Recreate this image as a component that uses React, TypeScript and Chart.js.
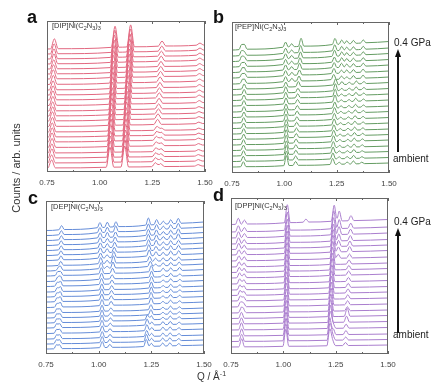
import React, { useEffect, useRef } from "react";
import { Chart, registerables } from "chart.js";
Chart.register(...registerables);

type Peak = [number, number];

const Q_MIN = 0.75;
const Q_MAX = 1.5;
const Q_TICKS = [0.75, 1.0, 1.25, 1.5];
const Q_MINOR_TICKS = [0.875, 1.125, 1.375];

// ---------- Panel a: [DIP]Ni(C2N3)3 (bottom = ambient, top = 0.4 GPa) ----------
const dipOffsets = [4, 9, 14, 19, 24.5, 30, 35, 40, 45.5, 51, 56, 61, 66.5, 72, 77, 82, 87.5, 93, 98, 103, 108, 113, 118, 123];
const dipRise = [2, 2, 2, 2, 2.5, 2.5, 2.5, 2.5, 3, 3, 3, 3, 3, 3, 3, 3.5, 3.5, 3.5, 3.5, 3.5, 4, 4, 4, 4];
const dipPeaks: Peak[][] = [
  [[0.772, 8], [1.049, 20], [1.119, 21], [1.265, 4], [1.289, 3], [1.468, 1.5]],
  [[0.772, 8], [1.050, 21], [1.120, 22], [1.266, 4], [1.290, 3], [1.469, 1.5]],
  [[0.773, 9], [1.051, 21], [1.121, 22], [1.267, 4], [1.290, 3], [1.469, 1.5]],
  [[0.773, 9], [1.052, 21], [1.123, 22], [1.268, 4], [1.291, 3], [1.470, 1.5]],
  [[0.774, 9], [1.053, 22], [1.124, 22], [1.269, 4], [1.291, 3], [1.470, 1.5]],
  [[0.774, 9], [1.054, 22], [1.125, 22], [1.270, 4], [1.292, 3], [1.470, 1.5]],
  [[0.775, 9], [1.055, 22], [1.126, 23], [1.272, 4], [1.292, 3], [1.471, 1.5]],
  [[0.775, 9], [1.056, 22], [1.127, 23], [1.273, 4], [1.293, 2], [1.471, 1.5]],
  [[0.776, 9], [1.057, 22], [1.128, 23], [1.275, 5], [1.471, 1.5]],
  [[0.776, 9], [1.058, 22], [1.130, 23], [1.277, 5], [1.472, 1.5]],
  [[0.777, 9], [1.059, 22], [1.131, 23], [1.279, 5], [1.472, 1.5]],
  [[0.777, 9], [1.060, 22], [1.132, 23], [1.280, 5], [1.472, 1.5]],
  [[0.778, 9], [1.061, 22], [1.133, 23], [1.282, 5], [1.473, 2]],
  [[0.778, 9], [1.062, 22], [1.135, 23], [1.283, 5], [1.473, 2]],
  [[0.779, 9], [1.063, 22], [1.136, 23], [1.284, 5], [1.473, 2]],
  [[0.779, 9], [1.064, 22], [1.137, 23], [1.286, 5], [1.474, 2]],
  [[0.780, 9], [1.065, 22], [1.139, 23], [1.287, 5], [1.474, 2]],
  [[0.780, 9], [1.066, 22], [1.140, 23], [1.289, 5], [1.474, 2]],
  [[0.781, 9], [1.067, 22], [1.141, 23], [1.290, 5], [1.475, 2]],
  [[0.782, 9], [1.068, 22], [1.142, 23], [1.291, 5], [1.475, 2]],
  [[0.783, 10], [1.069, 22], [1.143, 23], [1.292, 5], [1.475, 2]],
  [[0.783, 10], [1.070, 22], [1.144, 23], [1.293, 5], [1.476, 2]],
  [[0.784, 10], [1.072, 22], [1.146, 23], [1.295, 5], [1.476, 2]],
  [[0.785, 10], [1.073, 21], [1.147, 22], [1.296, 5], [1.476, 2]],
];

// ---------- Panel b: [PEP]Ni(C2N3)3 ----------
const pepOffsets = [6, 11.5, 17, 22.5, 28, 33.5, 39, 44.5, 50, 55.5, 61, 67, 72.5, 78, 83.5, 89, 95, 100.5, 106, 111.5, 117, 123];
const pepRise = [4, 4, 4.5, 4.5, 5, 5, 5, 5.5, 5.5, 6, 6, 6, 6.5, 6.5, 7, 7, 7, 7.5, 7.5, 8, 8, 8.5];
const pepPeaks: Peak[][] = [
  [[0.804, 5], [1.010, 10], [1.054, 4], [1.231, 6], [1.262, 2], [1.300, 2], [1.330, 3], [1.370, 1.5]],
  [[0.804, 5], [1.010, 9], [1.054, 4], [1.232, 6], [1.262, 2], [1.300, 2], [1.331, 3], [1.371, 1.5]],
  [[0.805, 5], [1.010, 9], [1.055, 4], [1.233, 6], [1.263, 2], [1.301, 2], [1.332, 3], [1.372, 1.5]],
  [[0.805, 5], [1.010, 8], [1.055, 4], [1.234, 6], [1.264, 2], [1.302, 2], [1.333, 3], [1.372, 2]],
  [[0.805, 5], [1.009, 8], [1.056, 4], [1.235, 6], [1.265, 2], [1.303, 2], [1.334, 3], [1.373, 2]],
  [[0.806, 5], [1.009, 8], [1.057, 4], [1.236, 6], [1.266, 2], [1.303, 2], [1.335, 3], [1.374, 2]],
  [[0.806, 5], [1.009, 8], [1.058, 4], [1.237, 6], [1.267, 2], [1.304, 2], [1.336, 3], [1.375, 2]],
  [[0.806, 5], [1.009, 7], [1.059, 4], [1.238, 6], [1.268, 2], [1.305, 2], [1.337, 3], [1.376, 2]],
  [[0.806, 5], [1.008, 7], [1.060, 4], [1.239, 6], [1.269, 2], [1.306, 2], [1.338, 3], [1.376, 2]],
  [[0.807, 5], [1.008, 7], [1.061, 4], [1.240, 6], [1.270, 2], [1.307, 2], [1.339, 3], [1.377, 2]],
  [[0.807, 5], [1.008, 6], [1.062, 4], [1.241, 6], [1.271, 2], [1.308, 2], [1.340, 3], [1.378, 2]],
  [[0.807, 5], [1.008, 6], [1.063, 4], [1.242, 7], [1.272, 2], [1.309, 2], [1.341, 3], [1.378, 2]],
  [[0.807, 5], [1.007, 6], [1.064, 4], [1.243, 7], [1.273, 2], [1.309, 2], [1.342, 3], [1.379, 2]],
  [[0.808, 5], [1.007, 6], [1.065, 4], [1.244, 7], [1.274, 2], [1.310, 2], [1.343, 3], [1.380, 2]],
  [[0.808, 5], [1.007, 5], [1.067, 5], [1.245, 6], [1.275, 3], [1.310, 2], [1.344, 3], [1.380, 2]],
  [[0.799, 4], [0.811, 4], [1.006, 5], [1.036, 3], [1.070, 5], [1.236, 5], [1.273, 3], [1.298, 2], [1.330, 3], [1.376, 3]],
  [[0.798, 4], [0.811, 4], [1.006, 5], [1.036, 3], [1.072, 5], [1.237, 5], [1.273, 3], [1.298, 3], [1.330, 3], [1.376, 3]],
  [[0.798, 4], [0.810, 4], [1.006, 5], [1.035, 3], [1.073, 6], [1.238, 5], [1.273, 4], [1.298, 3], [1.330, 3], [1.377, 3]],
  [[0.797, 4], [0.810, 4], [1.006, 5], [1.035, 3], [1.075, 6], [1.239, 5], [1.274, 4], [1.298, 3], [1.330, 3], [1.377, 3]],
  [[0.797, 5], [0.810, 4], [1.006, 5], [1.035, 3], [1.077, 6], [1.240, 6], [1.274, 4], [1.298, 3], [1.330, 3], [1.377, 3]],
  [[0.796, 5], [0.809, 4], [1.006, 5], [1.035, 3], [1.078, 7], [1.241, 6], [1.274, 4], [1.298, 3], [1.330, 3], [1.377, 3]],
  [[0.796, 5], [0.809, 5], [1.006, 5], [1.035, 3], [1.080, 8], [1.242, 6], [1.274, 4], [1.298, 3], [1.330, 3], [1.377, 3]],
];

// ---------- Panel c: [DEP]Ni(C2N3)3 ----------
const depOffsets = [5, 10, 15, 20.5, 26, 31, 36, 41, 46.5, 52, 57, 62, 67.5, 72.5, 78, 83, 88, 93.5, 98.5, 103.5, 108.5, 113.5, 118.5, 123.5];
const depRise = [4, 4, 4, 4.5, 4.5, 5, 5, 5, 5.5, 5.5, 6, 6, 6, 6.5, 6.5, 7, 7, 7, 7.5, 7.5, 8, 8, 8.5, 8.5];
const depPeaks: Peak[][] = [
  [[0.800, 4], [0.814, 4], [1.017, 6], [1.053, 3], [1.226, 7], [1.250, 3], [1.304, 3], [1.338, 3], [1.380, 2]],
  [[0.800, 4], [0.814, 4], [1.017, 6], [1.053, 3], [1.227, 7], [1.251, 3], [1.304, 3], [1.338, 3], [1.380, 2]],
  [[0.801, 4], [0.815, 4], [1.017, 6], [1.054, 3], [1.228, 6], [1.251, 3], [1.305, 3], [1.339, 3], [1.381, 2]],
  [[0.801, 4], [0.815, 4], [1.017, 6], [1.054, 3], [1.229, 6], [1.252, 3], [1.305, 3], [1.339, 3], [1.381, 2]],
  [[0.801, 4], [0.815, 4], [1.016, 6], [1.055, 3], [1.230, 6], [1.252, 3], [1.305, 3], [1.340, 3], [1.382, 2]],
  [[0.802, 4], [0.816, 4], [1.016, 6], [1.056, 3], [1.232, 5], [1.250, 4], [1.305, 2], [1.340, 3], [1.382, 2]],
  [[0.802, 4], [0.816, 4], [1.016, 6], [1.057, 3], [1.248, 5], [1.305, 2], [1.340, 3], [1.383, 2]],
  [[0.802, 4], [0.816, 4], [1.016, 6], [1.058, 3], [1.248, 5], [1.305, 2], [1.341, 3], [1.383, 2]],
  [[0.803, 4], [0.817, 5], [1.016, 6], [1.059, 4], [1.249, 6], [1.305, 2], [1.341, 3], [1.384, 2]],
  [[0.803, 4], [0.817, 5], [1.015, 6], [1.060, 4], [1.249, 6], [1.305, 2], [1.341, 3], [1.384, 2]],
  [[0.803, 4], [0.817, 5], [1.015, 6], [1.061, 4], [1.250, 6], [1.305, 2], [1.342, 3], [1.385, 2]],
  [[0.804, 4], [0.818, 5], [1.015, 6], [1.062, 4], [1.250, 6], [1.306, 2], [1.342, 3], [1.385, 2]],
  [[0.804, 4], [0.818, 5], [1.014, 6], [1.063, 4], [1.251, 6], [1.306, 2], [1.342, 3], [1.385, 2]],
  [[0.805, 4], [0.818, 5], [1.014, 6], [1.064, 4], [1.251, 6], [1.306, 2], [1.342, 3], [1.385, 2]],
  [[0.806, 4], [0.819, 4], [1.013, 6], [1.066, 5], [1.250, 6], [1.306, 3], [1.342, 3], [1.384, 3]],
  [[0.808, 3], [0.820, 4], [1.012, 6], [1.040, 2], [1.068, 6], [1.245, 5], [1.270, 2], [1.306, 3], [1.342, 3], [1.382, 3]],
  [[0.820, 4], [1.010, 6], [1.040, 3], [1.070, 7], [1.242, 5], [1.270, 3], [1.306, 3], [1.342, 3], [1.380, 3]],
  [[0.821, 4], [1.009, 5], [1.040, 3], [1.072, 6], [1.240, 6], [1.272, 4], [1.306, 3], [1.342, 4], [1.380, 4]],
  [[0.821, 4], [1.008, 5], [1.040, 4], [1.074, 5], [1.238, 6], [1.272, 4], [1.307, 3], [1.342, 4], [1.379, 4]],
  [[0.822, 4], [1.008, 5], [1.041, 4], [1.076, 5], [1.237, 6], [1.273, 5], [1.307, 3], [1.342, 4], [1.379, 4]],
  [[0.822, 4], [1.007, 5], [1.041, 4], [1.078, 5], [1.236, 6], [1.274, 5], [1.307, 3], [1.342, 4], [1.378, 5]],
  [[0.823, 4], [1.007, 5], [1.041, 5], [1.080, 5], [1.236, 6], [1.274, 5], [1.307, 3], [1.342, 4], [1.378, 5]],
  [[0.823, 4], [1.006, 5], [1.041, 5], [1.081, 6], [1.236, 6], [1.275, 5], [1.307, 3], [1.342, 4], [1.378, 5]],
  [[0.824, 4], [1.006, 5], [1.041, 5], [1.082, 5], [1.236, 7], [1.275, 5], [1.307, 3], [1.342, 4], [1.378, 5]],
];

// ---------- Panel d: [DPP]Ni(C2N3)3 ----------
const dppOffsets = [7, 12.5, 18, 24, 30, 35.5, 41, 47, 53, 58.5, 64, 70, 76, 81.5, 87, 93, 99, 104.5, 110, 116, 122, 129.5];
const dppRise = [2, 2, 2, 2.5, 2.5, 3, 3, 3, 3, 3.5, 3.5, 3.5, 4, 4, 4, 4, 4.5, 4.5, 4.5, 5, 5, 5];
const dppPeaks: Peak[][] = [
  [[0.801, 8], [1.012, 17], [1.222, 17], [1.236, 6], [1.297, 3]],
  [[0.801, 7], [1.012, 17], [1.223, 17], [1.237, 6], [1.298, 3]],
  [[0.801, 7], [1.013, 17], [1.223, 17], [1.238, 6], [1.299, 4]],
  [[0.800, 7], [1.013, 17], [1.224, 17], [1.238, 6], [1.300, 4]],
  [[0.800, 6], [1.013, 17], [1.225, 17], [1.302, 6]],
  [[0.800, 6], [1.014, 17], [1.226, 17], [1.305, 8]],
  [[0.798, 5], [0.810, 4], [1.014, 17], [1.227, 17], [1.306, 4]],
  [[0.796, 5], [0.810, 4], [1.015, 17], [1.228, 17], [1.307, 4]],
  [[0.795, 5], [0.810, 4], [1.015, 17], [1.229, 17], [1.308, 4]],
  [[0.794, 5], [0.811, 4], [1.016, 17], [1.230, 17], [1.309, 4]],
  [[0.793, 5], [0.811, 4], [1.016, 17], [1.231, 17], [1.310, 4]],
  [[0.792, 5], [0.811, 4], [1.016, 17], [1.232, 17], [1.311, 4]],
  [[0.791, 5], [0.812, 4], [1.017, 17], [1.233, 17], [1.312, 4]],
  [[0.790, 5], [0.812, 4], [1.017, 17], [1.234, 17], [1.313, 4]],
  [[0.789, 5], [0.812, 4], [1.017, 17], [1.235, 17], [1.314, 4]],
  [[0.788, 5], [0.813, 4], [1.018, 17], [1.236, 17], [1.262, 4], [1.316, 4]],
  [[0.788, 5], [0.813, 4], [1.018, 17], [1.237, 17], [1.263, 5], [1.317, 5]],
  [[0.787, 6], [0.813, 4], [1.018, 17], [1.238, 17], [1.264, 6], [1.318, 5]],
  [[0.786, 6], [0.813, 4], [1.019, 17], [1.239, 17], [1.265, 7], [1.320, 5]],
  [[0.786, 6], [0.814, 4], [1.019, 17], [1.240, 17], [1.266, 8], [1.321, 5]],
  [[0.785, 6], [0.814, 4], [1.019, 18], [1.241, 18], [1.267, 9], [1.322, 5]],
  [[0.785, 6], [0.814, 4], [1.019, 18], [1.108, 3], [1.243, 16], [1.267, 10], [1.323, 5]],
];

// ---------- layout / style ----------
const PAD_X = 14;
const PAD_T = 4;
const AXIS_H = 18;
const FONT = "'Liberation Sans', Arial, Helvetica, sans-serif";

interface PanelDef {
  id: string;
  offsets: number[];
  rise: number[];
  peaks: Peak[][];
  peakWidth: number;
  color: string;
  box: { left: number; top: number; width: number; height: number };
}

const PANELS: PanelDef[] = [
  { id: "a", offsets: dipOffsets, rise: dipRise, peaks: dipPeaks, peakWidth: 0.018, color: "rgb(226,104,128)", box: { left: 47, top: 21, width: 158, height: 151 } },
  { id: "b", offsets: pepOffsets, rise: pepRise, peaks: pepPeaks, peakWidth: 0.013, color: "rgb(100,156,98)", box: { left: 232, top: 22, width: 157, height: 151 } },
  { id: "c", offsets: depOffsets, rise: depRise, peaks: depPeaks, peakWidth: 0.013, color: "rgb(100,140,216)", box: { left: 46, top: 201, width: 158, height: 153 } },
  { id: "d", offsets: dppOffsets, rise: dppRise, peaks: dppPeaks, peakWidth: 0.014, color: "rgb(170,126,206)", box: { left: 231, top: 198, width: 157, height: 156 } },
];

function buildTrace(offset: number, rise: number, peaks: Peak[], w: number) {
  const xs = new Set<number>([Q_MIN, Q_MAX]);
  peaks.forEach(([q]) => {
    xs.add(+(q - w).toFixed(5));
    xs.add(q);
    xs.add(+(q + w).toFixed(5));
  });
  const sorted = Array.from(xs).filter((x) => x >= Q_MIN && x <= Q_MAX).sort((a, b) => a - b);
  return sorted.map((x) => {
    let y = offset + (rise * (x - Q_MIN)) / (Q_MAX - Q_MIN);
    peaks.forEach(([q, h]) => {
      const d = Math.abs(x - q);
      if (d < w) y += h * (1 - d / w);
    });
    return { x, y };
  });
}

const framePlugin = {
  id: "frameTicks",
  afterDraw(chart: any) {
    const { ctx, chartArea, scales } = chart;
    const { left, right, top, bottom } = chartArea;
    const x = scales.x;
    ctx.save();
    ctx.strokeStyle = "#666";
    ctx.lineWidth = 1;
    ctx.strokeRect(left + 0.5, top + 0.5, right - left - 1, bottom - top - 1);
    const tick = (v: number, len: number) => {
      const px = Math.round(x.getPixelForValue(v)) + 0.5;
      ctx.beginPath();
      ctx.moveTo(px, bottom);
      ctx.lineTo(px, bottom - len);
      ctx.moveTo(px, top);
      ctx.lineTo(px, top + len);
      ctx.stroke();
    };
    Q_TICKS.forEach((v) => tick(v, 3));
    Q_MINOR_TICKS.forEach((v) => tick(v, 2));
    ctx.restore();
  },
};

function Panel({ p }: { p: PanelDef }) {
  const ref = useRef<HTMLCanvasElement>(null);
  const cw = p.box.width + 2 * PAD_X;
  const ch = p.box.height + PAD_T + AXIS_H;
  useEffect(() => {
    if (!ref.current) return;
    const datasets = p.peaks.map((pk, i) => ({
      data: buildTrace(p.offsets[i], p.rise[i], pk, p.peakWidth),
      borderColor: p.color,
      borderWidth: 1,
      pointRadius: 0,
      fill: false,
      cubicInterpolationMode: "monotone" as const,
    }));
    const chart = new Chart(ref.current, {
      type: "line",
      data: { datasets },
      options: {
        animation: false,
        responsive: false,
        devicePixelRatio: 1,
        events: [],
        layout: { padding: { left: PAD_X, right: PAD_X, top: PAD_T, bottom: 0 } },
        plugins: { legend: { display: false }, tooltip: { enabled: false }, title: { display: false } },
        scales: {
          x: {
            type: "linear",
            min: Q_MIN,
            max: Q_MAX,
            grid: { display: false, drawTicks: false },
            border: { display: false },
            afterBuildTicks: (s: any) => {
              s.ticks = Q_TICKS.map((v) => ({ value: v }));
            },
            afterFit: (s: any) => {
              s.height = AXIS_H;
            },
            ticks: {
              autoSkip: false,
              maxRotation: 0,
              padding: 6,
              color: "#444",
              font: { family: FONT, size: 8 },
              callback: (v: any) => Number(v).toFixed(2),
            },
          },
          y: { type: "linear", display: false, min: 0, max: p.box.height },
        },
      },
      plugins: [framePlugin],
    });
    return () => chart.destroy();
  }, [p]);
  return (
    <canvas
      ref={ref}
      width={cw}
      height={ch}
      style={{ position: "absolute", left: p.box.left - PAD_X, top: p.box.top - PAD_T, width: cw, height: ch }}
    />
  );
}

function Formula({ x, y, cation }: { x: number; y: number; cation: string }) {
  return (
    <text x={x} y={y} fontSize={7.5} fill="#333" fontFamily={FONT}>
      [{cation}]Ni(C
      <tspan fontSize={5.5} dy={1.5}>2</tspan>
      <tspan dy={-1.5}>N</tspan>
      <tspan fontSize={5.5} dy={1.5}>3</tspan>
      <tspan dy={-1.5}>)</tspan>
      <tspan fontSize={5.5} dy={1.5}>3</tspan>
    </text>
  );
}

export default function App() {
  return (
    <div style={{ position: "absolute", left: 0, top: 0, width: 434, height: 382, background: "#fff", overflow: "hidden" }}>
      {PANELS.map((p) => (
        <Panel key={p.id} p={p} />
      ))}
      <svg width={434} height={382} style={{ position: "absolute", left: 0, top: 0, pointerEvents: "none" }} fontFamily={FONT}>
        <text x={27} y={23} fontSize={18} fontWeight="bold" fill="#111">a</text>
        <text x={213} y={23} fontSize={18} fontWeight="bold" fill="#111">b</text>
        <text x={28} y={204} fontSize={18} fontWeight="bold" fill="#111">c</text>
        <text x={213} y={201} fontSize={18} fontWeight="bold" fill="#111">d</text>

        <Formula x={52} y={28} cation="DIP" />
        <Formula x={235} y={29} cation="PEP" />
        <Formula x={51} y={209} cation="DEP" />
        <Formula x={235} y={208} cation="DPP" />

        <text x={394} y={46} fontSize={10} fill="#222">0.4 GPa</text>
        <line x1={398} y1={152} x2={398} y2={55} stroke="#111" strokeWidth={2} />
        <polygon points="398,49 395,57 401,57" fill="#111" />
        <text x={393} y={162} fontSize={10} fill="#222">ambient</text>

        <text x={394} y={225} fontSize={10} fill="#222">0.4 GPa</text>
        <line x1={398} y1={333} x2={398} y2={234} stroke="#111" strokeWidth={2} />
        <polygon points="398,228 395,236 401,236" fill="#111" />
        <text x={393} y={338} fontSize={10} fill="#222">ambient</text>

        <text transform="translate(20,168) rotate(-90)" textAnchor="middle" fontSize={11} fill="#333">
          Counts / arb. units
        </text>
        <text x={197} y={380} fontSize={10} fill="#333">
          Q / Å<tspan fontSize={7} dy={-4}>-1</tspan>
        </text>
      </svg>
    </div>
  );
}
